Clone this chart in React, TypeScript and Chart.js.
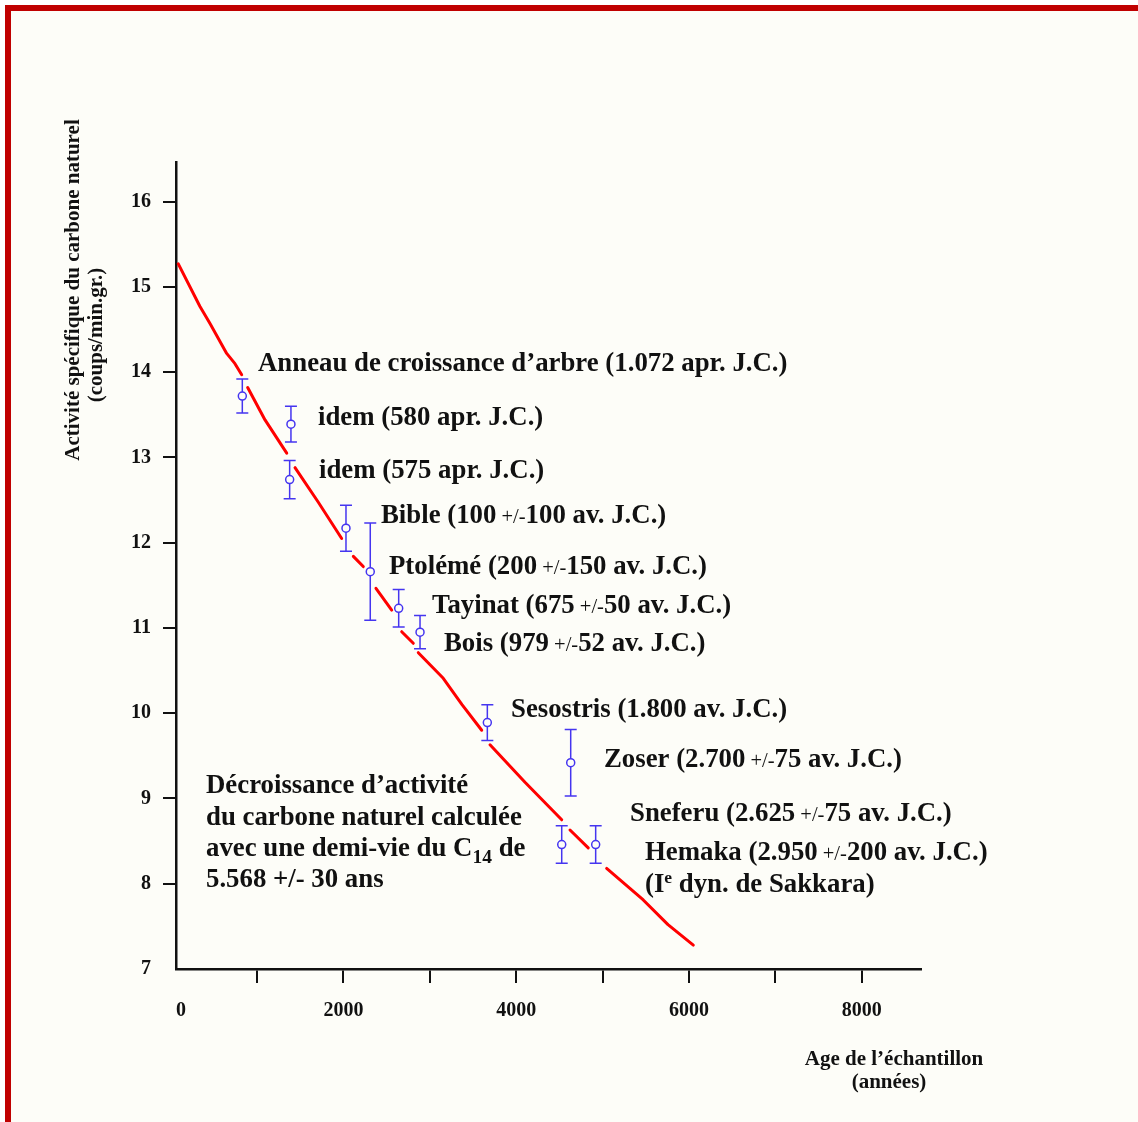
import React, { useEffect, useRef } from 'react';
import { Chart, registerables } from 'chart.js';

Chart.register(...registerables);

// ---- Data ----
// Dated samples (age in years, specific activity in counts/min.g, half error bar)
const sampleAges = [830, 1393, 1378, 2030, 2311, 2640, 2887, 3666, 4631, 4527, 4920];
const sampleActivity = [13.72, 13.39, 12.74, 12.17, 11.66, 11.23, 10.95, 9.89, 9.42, 8.46, 8.46];
const sampleError = [0.2, 0.21, 0.225, 0.27, 0.57, 0.22, 0.195, 0.21, 0.39, 0.22, 0.22];

// Red decay curve, traced as separate pieces (it is broken near the samples)
const curveAges = [
  [89, 340, 456, 649, 745, 823],
  [892, 1093, 1344],
  [1440, 1706, 1980],
  [2115, 2230],
  [2377, 2559],
  [2675, 2809],
  [2867, 3156, 3373, 3601],
  [3697, 4102, 4527],
  [4623, 4834],
  [5047, 5471, 5757, 6050],
];
const curveActivity = [
  [15.27, 14.77, 14.57, 14.22, 14.1, 13.97],
  [13.82, 13.44, 13.05],
  [12.88, 12.48, 12.05],
  [11.84, 11.72],
  [11.465, 11.21],
  [10.956, 10.82],
  [10.71, 10.41, 10.1, 9.8],
  [9.63, 9.19, 8.75],
  [8.63, 8.42],
  [8.18, 7.81, 7.52, 7.28],
];

const xTickValues = [1000, 2000, 3000, 4000, 5000, 6000, 7000, 8000];
const xTickLabels = [2000, 4000, 6000, 8000];
const yTickValues = [7, 8, 9, 10, 11, 12, 13, 14, 15, 16];

// ---- Styling ----
const SERIF = '"Liberation Serif", "Times New Roman", serif';
const INK = '#111111';
const BLUE = '#4535f0';
const RED = '#ff0000';
const CREAM = '#fdfdf8';
const BIG = 26.8;
const PM = 20.5;

type Run = { t: string; size?: number; weight?: string; dy?: number };
const notes: { x: number; y: number; runs: Run[] }[] = [
  { x: 258, y: 371, runs: [{ t: 'Anneau de croissance d’arbre (1.072 apr. J.C.)' }] },
  { x: 318, y: 425, runs: [{ t: 'idem (580 apr. J.C.)' }] },
  { x: 319, y: 478, runs: [{ t: 'idem (575 apr. J.C.)' }] },
  { x: 381, y: 523, runs: [{ t: 'Bible (100' }, { t: ' +/-', size: PM, weight: 'normal' }, { t: '100 av. J.C.)' }] },
  { x: 389, y: 574, runs: [{ t: 'Ptolémé (200' }, { t: ' +/-', size: PM, weight: 'normal' }, { t: '150 av. J.C.)' }] },
  { x: 432, y: 613, runs: [{ t: 'Tayinat (675' }, { t: ' +/-', size: PM, weight: 'normal' }, { t: '50 av. J.C.)' }] },
  { x: 444, y: 651, runs: [{ t: 'Bois (979' }, { t: ' +/-', size: PM, weight: 'normal' }, { t: '52 av. J.C.)' }] },
  { x: 511, y: 717, runs: [{ t: 'Sesostris (1.800 av. J.C.)' }] },
  { x: 604, y: 767, runs: [{ t: 'Zoser (2.700' }, { t: ' +/-', size: PM, weight: 'normal' }, { t: '75 av. J.C.)' }] },
  { x: 630, y: 821, runs: [{ t: 'Sneferu (2.625' }, { t: ' +/-', size: PM, weight: 'normal' }, { t: '75 av. J.C.)' }] },
  { x: 645, y: 860, runs: [{ t: 'Hemaka (2.950' }, { t: ' +/-', size: PM, weight: 'normal' }, { t: '200 av. J.C.)' }] },
  { x: 645, y: 892, runs: [{ t: '(I' }, { t: 'e', size: 17.5, dy: -9 }, { t: ' dyn. de Sakkara)' }] },
  { x: 206, y: 793, runs: [{ t: 'Décroissance d’activité' }] },
  { x: 206, y: 825, runs: [{ t: 'du carbone naturel calculée' }] },
  { x: 206, y: 856, runs: [{ t: 'avec une demi-vie du C' }, { t: '14', size: 19.5, dy: 7 }, { t: ' de' }] },
  { x: 206, y: 887, runs: [{ t: '5.568 +/- 30 ans' }] },
];

function drawRuns(ctx: CanvasRenderingContext2D, x: number, y: number, runs: Run[]) {
  let cx = x;
  for (const r of runs) {
    ctx.font = `${r.weight || 'bold'} ${r.size || BIG}px ${SERIF}`;
    ctx.fillText(r.t, cx, y + (r.dy || 0));
    cx += ctx.measureText(r.t).width;
  }
}

const pagePlugin = {
  id: 'page',
  beforeDraw(chart: any) {
    const { ctx, width, height } = chart;
    ctx.save();
    ctx.fillStyle = '#ffffff';
    ctx.fillRect(0, 0, width, height);
    ctx.fillStyle = '#c00000';
    ctx.fillRect(5, 5, width - 5, 6);
    ctx.fillRect(5, 5, 6, height - 5);
    ctx.fillStyle = CREAM;
    ctx.fillRect(11, 11, width - 11, height - 11);
    ctx.restore();
  },
};

const errorBarPlugin = {
  id: 'errorBars',
  beforeDatasetsDraw(chart: any) {
    const { ctx } = chart;
    const xs = chart.scales.x;
    const ys = chart.scales.y;
    ctx.save();
    ctx.strokeStyle = BLUE;
    ctx.lineWidth = 1.5;
    sampleAges.forEach((age, i) => {
      const px = xs.getPixelForValue(age);
      const top = ys.getPixelForValue(sampleActivity[i] + sampleError[i]);
      const bot = ys.getPixelForValue(sampleActivity[i] - sampleError[i]);
      ctx.beginPath();
      ctx.moveTo(px, top);
      ctx.lineTo(px, bot);
      ctx.moveTo(px - 6, top);
      ctx.lineTo(px + 6, top);
      ctx.moveTo(px - 6, bot);
      ctx.lineTo(px + 6, bot);
      ctx.stroke();
    });
    ctx.restore();
  },
};

const textPlugin = {
  id: 'texts',
  afterDraw(chart: any) {
    const { ctx, chartArea } = chart;
    ctx.save();
    ctx.fillStyle = INK;
    ctx.textAlign = 'left';
    ctx.textBaseline = 'alphabetic';
    notes.forEach((n) => drawRuns(ctx, n.x, n.y, n.runs));

    // "0" label at the origin corner
    ctx.textAlign = 'center';
    ctx.font = `bold 20px ${SERIF}`;
    ctx.fillText('0', chartArea.left + 5, 1016);

    // x axis title
    ctx.font = `bold 21px ${SERIF}`;
    ctx.fillText('Age de l’échantillon', 894, 1065);
    ctx.fillText('(années)', 889, 1088);

    // y axis title
    ctx.save();
    ctx.translate(79, 290);
    ctx.rotate(-Math.PI / 2);
    ctx.fillText('Activité spécifique du carbone naturel', 0, 0);
    ctx.restore();
    ctx.save();
    ctx.translate(102, 335);
    ctx.rotate(-Math.PI / 2);
    ctx.fillText('(coups/min.gr.)', 0, 0);
    ctx.restore();

    ctx.restore();
  },
};

export default function App() {
  const ref = useRef<HTMLCanvasElement | null>(null);

  useEffect(() => {
    document.body.style.margin = '0';
    const canvas = ref.current;
    if (!canvas) return;

    const curveData: { x: number; y: number | null }[] = [];
    curveAges.forEach((seg, s) => {
      seg.forEach((a, i) => curveData.push({ x: a, y: curveActivity[s][i] }));
      if (s < curveAges.length - 1) curveData.push({ x: seg[seg.length - 1], y: null });
    });

    const tickFont = { family: SERIF, size: 20, weight: 'bold' as const };

    const chart = new Chart(canvas, {
      type: 'line',
      data: {
        datasets: [
          {
            label: 'Échantillons',
            data: sampleAges.map((a, i) => ({ x: a, y: sampleActivity[i] })),
            showLine: false,
            pointStyle: 'circle',
            pointRadius: 4,
            pointBorderWidth: 1.5,
            pointBorderColor: BLUE,
            pointBackgroundColor: CREAM,
            order: 0,
          },
          {
            label: 'Décroissance calculée',
            data: curveData as any,
            borderColor: RED,
            borderWidth: 3,
            pointRadius: 0,
            tension: 0,
            spanGaps: false,
            borderCapStyle: 'round',
            borderJoinStyle: 'round',
            order: 1,
          },
        ],
      },
      options: {
        responsive: false,
        animation: false,
        devicePixelRatio: 1,
        layout: { padding: { top: 162.7, right: 217.3, left: 0, bottom: 0 } },
        plugins: {
          legend: { display: false },
          tooltip: { enabled: false },
        },
        scales: {
          x: {
            type: 'linear',
            min: 62.5,
            max: 8682,
            afterBuildTicks: (s: any) => {
              s.ticks = xTickValues.map((v) => ({ value: v }));
            },
            afterFit: (s: any) => {
              s.height = 153;
            },
            grid: {
              drawOnChartArea: false,
              drawTicks: true,
              tickLength: 14,
              color: INK,
              lineWidth: 2,
            },
            border: { display: true, color: INK, width: 2.5 },
            ticks: {
              autoSkip: false,
              maxRotation: 0,
              padding: 16,
              color: INK,
              font: tickFont,
              callback: (v: any) => (xTickLabels.includes(Number(v)) ? String(v) : ''),
            },
          },
          y: {
            type: 'linear',
            min: 7,
            max: 16.457,
            afterBuildTicks: (s: any) => {
              s.ticks = yTickValues.map((v) => ({ value: v }));
            },
            afterFit: (s: any) => {
              s.width = 176;
            },
            grid: {
              drawOnChartArea: false,
              drawTicks: true,
              tickLength: 13,
              color: (c: any) => (c.tick && c.tick.value === 7 ? 'rgba(0,0,0,0)' : INK),
              lineWidth: 2,
            },
            border: { display: true, color: INK, width: 2.5 },
            ticks: {
              autoSkip: false,
              padding: 12,
              color: INK,
              font: tickFont,
              callback: (v: any) => String(v),
            },
          },
        },
      },
      plugins: [pagePlugin, errorBarPlugin, textPlugin],
    } as any);

    return () => chart.destroy();
  }, []);

  return (
    <canvas
      ref={ref}
      width={1138}
      height={1122}
      style={{ display: 'block', width: 1138, height: 1122 }}
    />
  );
}
